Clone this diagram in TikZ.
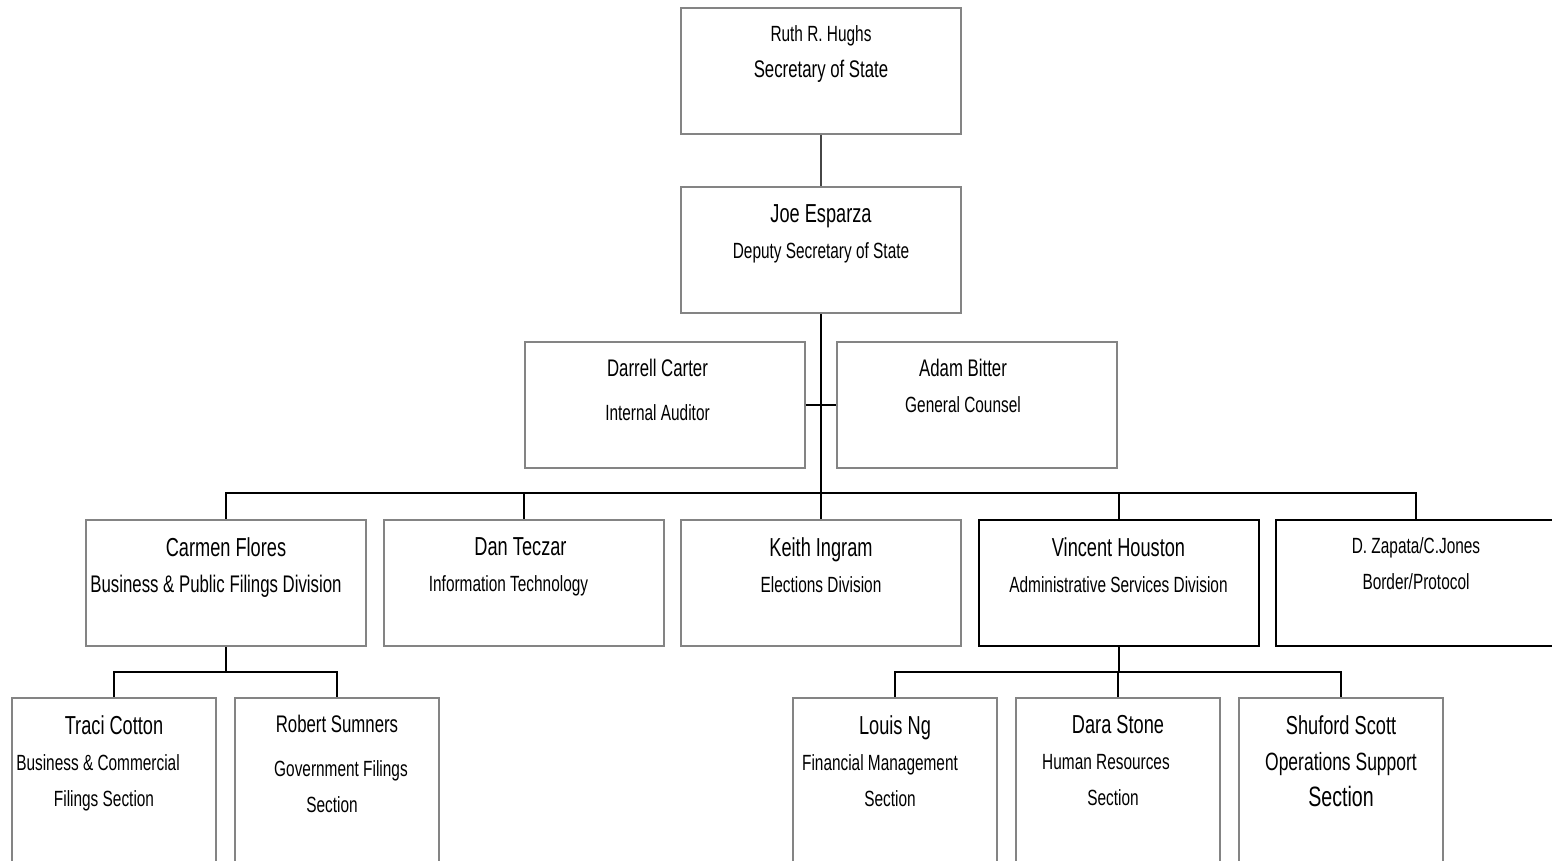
\documentclass[tikz,border=0pt]{standalone}
\usepackage{fontspec}
\setmainfont[FakeStretch=0.7]{Liberation Sans}
\usetikzlibrary{positioning}
\definecolor{boxgray}{RGB}{132,132,132}
\definecolor{linegray}{RGB}{70,70,70}
\newcommand{\smtxt}{\fontsize{11}{18}\selectfont}
\newcommand{\mdtxt}{\fontsize{12}{18}\selectfont}
\newcommand{\bgtxt}{\fontsize{13}{18}\selectfont}
\newcommand{\padr}[1]{\hspace*{#1}\mbox{}}

\begin{document}
\begin{tikzpicture}[x=0.5pt, y=-0.5pt,
	box/.style={draw=boxgray, line width=1pt, minimum width=140pt, minimum height=63pt, inner sep=0pt, anchor=north},
	boxblack/.style={box, draw=black},
	subbox/.style={box, minimum width=102pt, minimum height=100pt},
	txt/.style={inner sep=0pt, align=center, anchor=north, font=\mdtxt},
	conn/.style={draw=black, line width=1pt}]
	\useasboundingbox (0,0) rectangle (1552,861);
	\clip (0,0) rectangle (1552,861);

	\node[box] (ruth) at (821,7) {};
	\node[txt, below=9pt of ruth.north] (ruthT) {\smtxt Ruth R. Hughs\\\mdtxt Secretary of State};
	\node[box] (joe) at (821,186) {};
	\node[txt, below=9pt of joe.north] (joeT) {\bgtxt Joe Esparza\\\smtxt Deputy Secretary of State};

	\node[box] (darrell) at (664.5,341) {};
	\node[txt, below=9pt of darrell.north, xshift=-3.5pt] (darrellT) {\mdtxt Darrell Carter\\[4pt]\smtxt Internal Auditor};
	\node[box] (adam) at (977,341) {};
	\node[txt, below=9pt of adam.north, xshift=-7pt] (adamT) {\mdtxt Adam Bitter\\\smtxt General Counsel};

	\node[box] (carmen) at (226,519) {};
	\node[txt, below=9pt of carmen.north] (carmenT) {\bgtxt Carmen Flores\\\mdtxt Business \& Public Filings Division\padr{10pt}};
	\node[box] (dan) at (523.5,519) {};
	\node[txt, below=9pt of dan.north] (danT) {\bgtxt Dan Teczar\padr{3pt}\\\smtxt Information Technology\padr{15pt}};
	\node[box] (keith) at (821,519) {};
	\node[txt, below=9pt of keith.north] (keithT) {\bgtxt Keith Ingram\\\smtxt Elections Division};
	\node[boxblack] (vincent) at (1118.5,519) {};
	\node[txt, below=9pt of vincent.north] (vincentT) {\bgtxt Vincent Houston\\\smtxt Administrative Services Division};
	\node[boxblack] (zapata) at (1416,519) {};
	\node[txt, below=9pt of zapata.north] (zapataT) {\smtxt D. Zapata/C.Jones\\\smtxt Border/Protocol};

	\node[subbox] (traci) at (114,697) {};
	\node[txt, below=9pt of traci.north] (traciT) {\bgtxt Traci Cotton\\\smtxt Business \& Commercial\padr{16pt}\\\smtxt Filings Section\padr{10pt}};
	\node[subbox] (robert) at (337,697) {};
	\node[txt, below=9pt of robert.north] (robertT) {\mdtxt Robert Sumners\\[4pt]\smtxt\hspace*{4pt}Government Filings\\\smtxt Section\padr{5pt}};
	\node[subbox] (louis) at (895,697) {};
	\node[txt, below=9pt of louis.north] (louisT) {\bgtxt Louis Ng\\\smtxt Financial Management\padr{15pt}\\\smtxt Section\padr{5pt}};
	\node[subbox] (dara) at (1118,697) {};
	\node[txt, below=9pt of dara.north] (daraT) {\bgtxt Dara Stone\\\smtxt Human Resources\padr{12pt}\\\smtxt Section\padr{5pt}};
	\node[subbox] (shuford) at (1341,697) {};
	\node[txt, below=9pt of shuford.north] (shufordT) {\bgtxt Shuford Scott\\\fontsize{12.5}{18}\selectfont Operations Support\\\fontsize{14}{18}\selectfont Section};

	\coordinate (bus) at (821,493);
	\coordinate (cbus) at (226,672);
	\coordinate (vbus) at (1118.5,672);
	\draw[conn, draw=linegray] (ruth.south) -- (joe.north);
	\draw[conn] (joe.south) -- (bus);
	\draw[conn] (darrell.east) -- (adam.west);
	\foreach \n in {carmen,dan,keith,vincent,zapata}
		\draw[conn] (bus) -| (\n.north);
	\draw[conn] (carmen.south) -- (cbus);
	\foreach \n in {traci,robert}
		\draw[conn] (cbus) -| (\n.north);
	\draw[conn] (vincent.south) -- (vbus);
	\foreach \n in {louis,dara,shuford}
		\draw[conn] (vbus) -| (\n.north);
\end{tikzpicture}
\end{document}
